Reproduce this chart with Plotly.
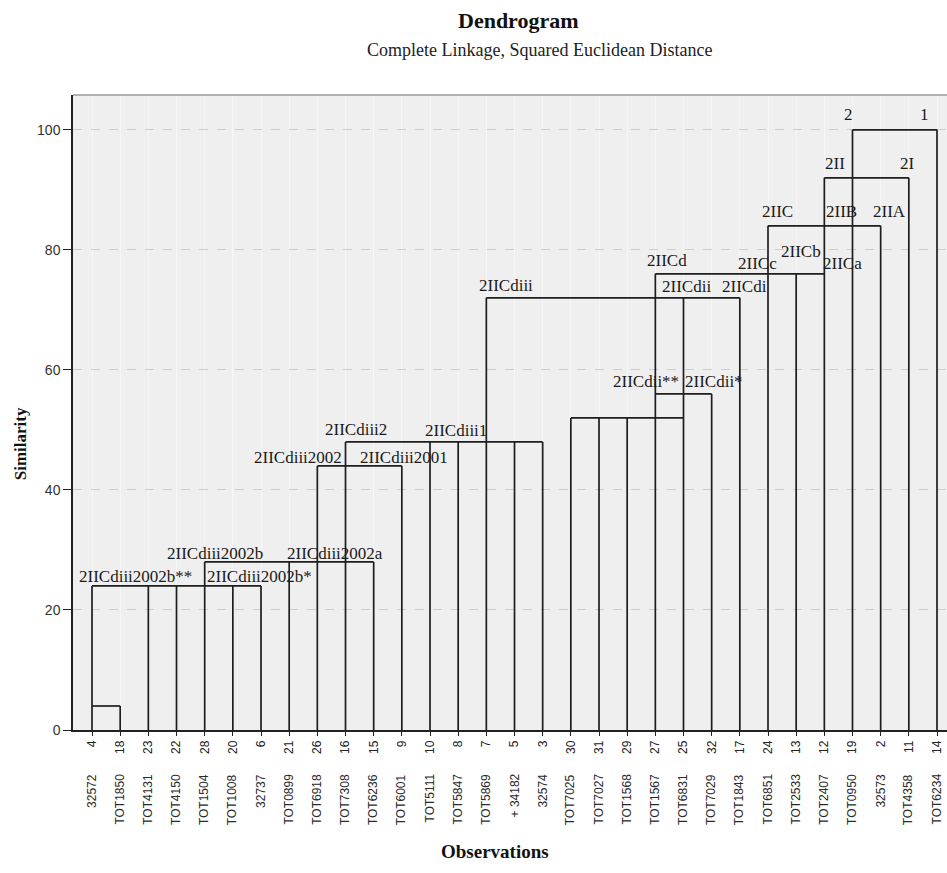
import plotly.graph_objects as go

# Observation numbers in dendrogram order and their strain names
leaf_ids = ["4", "18", "23", "22", "28", "20", "6", "21", "26", "16", "15", "9",
            "10", "8", "7", "5", "3", "30", "31", "29", "27", "25", "32", "17",
            "24", "13", "12", "19", "2", "11", "14"]
leaf_names = ["32572", "TOT1850", "TOT4131", "TOT4150", "TOT1504", "TOT1008",
              "32737", "TOT0899", "TOT6918", "TOT7308", "TOT6236", "TOT6001",
              "TOT5111", "TOT5847", "TOT5869", "+ 34182", "32574", "TOT7025",
              "TOT7027", "TOT1568", "TOT1567", "TOT6831", "TOT7029", "TOT1843",
              "TOT6851", "TOT2533", "TOT2407", "TOT0950", "32573", "TOT4358",
              "TOT6234"]

# Similarity at which each observation's stem ends
stem_top = [24, 4, 24, 24, 28, 24, 24, 28, 44, 48, 28, 44, 48, 48, 72, 48, 48,
            52, 52, 52, 76, 72, 56, 72, 84, 76, 92, 100, 84, 92, 100]

# Joins: similarity level and first / last stem (1-based order) spanned
join_level = [4, 24, 28, 44, 48, 52, 56, 72, 76, 84, 92, 100]
join_first = [1, 1, 5, 9, 10, 18, 21, 15, 21, 25, 27, 28]
join_last = [2, 7, 11, 12, 17, 22, 23, 24, 27, 29, 30, 31]

# Cluster names with their anchor (position along the order, similarity)
cluster_names = ["2IICdiii2002b**", "2IICdiii2002b*", "2IICdiii2002b",
                 "2IICdiii2002a", "2IICdiii2002", "2IICdiii2001", "2IICdiii2",
                 "2IICdiii1", "2IICdiii", "2IICdii**", "2IICdii*", "2IICd",
                 "2IICdii", "2IICdi", "2IICc", "2IICb", "2IICa", "2IIC", "2IIB",
                 "2IIA", "2II", "2I", "2", "1"]
cluster_x = [2.53, 6.96, 5.37, 9.63, 8.31, 12.08, 10.37, 13.92, 15.70, 20.67,
             23.08, 21.41, 22.12, 24.18, 24.61, 26.17, 27.66, 25.35, 27.62,
             29.33, 27.38, 29.97, 27.84, 30.54]
cluster_y = [24.5, 24.5, 28.3, 28.3, 44.3, 44.3, 49.0, 48.8, 73.0, 57.0, 57.0,
             77.2, 72.8, 72.8, 76.7, 78.7, 76.7, 85.3, 85.3, 85.3, 93.3, 93.3,
             101.5, 101.5]

positions = list(range(1, len(leaf_ids) + 1))

# Build the tree as one polyline broken by gaps
xs, ys = [], []
for p, top in zip(positions, stem_top):
    xs += [p, p, None]
    ys += [0, top, None]
for lvl, a, b in zip(join_level, join_first, join_last):
    xs += [a, b, None]
    ys += [lvl, lvl, None]

fig = go.Figure()
fig.add_trace(go.Scatter(x=xs, y=ys, mode="lines",
                         line=dict(color="#1e1e1e", width=1.7),
                         hoverinfo="skip", showlegend=False))

serif = "Liberation Serif"
sans = "Liberation Sans"

annotations = []
for name, cx, cy in zip(cluster_names, cluster_x, cluster_y):
    annotations.append(dict(x=cx, y=cy, xref="x", yref="y", text=name,
                            showarrow=False, xanchor="center", yanchor="bottom",
                            yshift=-5, font=dict(family=serif, size=17,
                                                 color="#1a1a1a")))

for p, nm in zip(positions, leaf_names):
    annotations.append(dict(x=p, y=-0.066, xref="x", yref="paper", text=nm,
                            showarrow=False, textangle=-90, xanchor="center",
                            yanchor="top", font=dict(family=sans, size=12,
                                                     color="#2a2a2a")))

annotations += [
    dict(x=0.510, y=1.118, xref="paper", yref="paper", text="<b>Dendrogram</b>",
         showarrow=False, xanchor="center", yanchor="middle",
         font=dict(family=serif, size=22, color="#111")),
    dict(x=0.534, y=1.071, xref="paper", yref="paper",
         text="Complete Linkage, Squared Euclidean Distance", showarrow=False,
         xanchor="center", yanchor="middle",
         font=dict(family=serif, size=18, color="#222")),
    dict(x=-0.0606, y=0.450, xref="paper", yref="paper", text="<b>Similarity</b>",
         textangle=-90, showarrow=False, xanchor="center", yanchor="middle",
         font=dict(family=serif, size=17, color="#111")),
    dict(x=0.483, y=-0.192, xref="paper", yref="paper",
         text="<b>Observations</b>", showarrow=False, xanchor="center",
         yanchor="middle", font=dict(family=serif, size=19, color="#111")),
]

fig.update_layout(
    width=947, height=873,
    margin=dict(l=73, r=0, t=95, b=143),
    paper_bgcolor="white", plot_bgcolor="#efefef",
    annotations=annotations,
    shapes=[dict(type="line", xref="paper", yref="paper", x0=0, x1=1, y0=1, y1=1,
                 line=dict(color="#9a9a9a", width=1.5))],
    xaxis=dict(range=[0.325, 31.355], tickmode="array", tickvals=positions,
               ticktext=leaf_ids, tickangle=-90, ticks="outside", ticklen=4,
               tickcolor="#222", showline=True, linecolor="#222", linewidth=1.5,
               showgrid=True, gridcolor="#f6f6f6", gridwidth=1, zeroline=False,
               tickfont=dict(family=sans, size=12, color="#222")),
    yaxis=dict(range=[0, 105.8], tickmode="array", tickvals=[0, 20, 40, 60, 80, 100],
               ticks="outside", ticklen=8, tickcolor="#222", showline=True,
               linecolor="#222", linewidth=1.5, showgrid=True,
               gridcolor="#cdcdcd", griddash="dash", gridwidth=1, zeroline=False,
               tickfont=dict(family=sans, size=14, color="#333")),
)

fig.write_html("out.html")
